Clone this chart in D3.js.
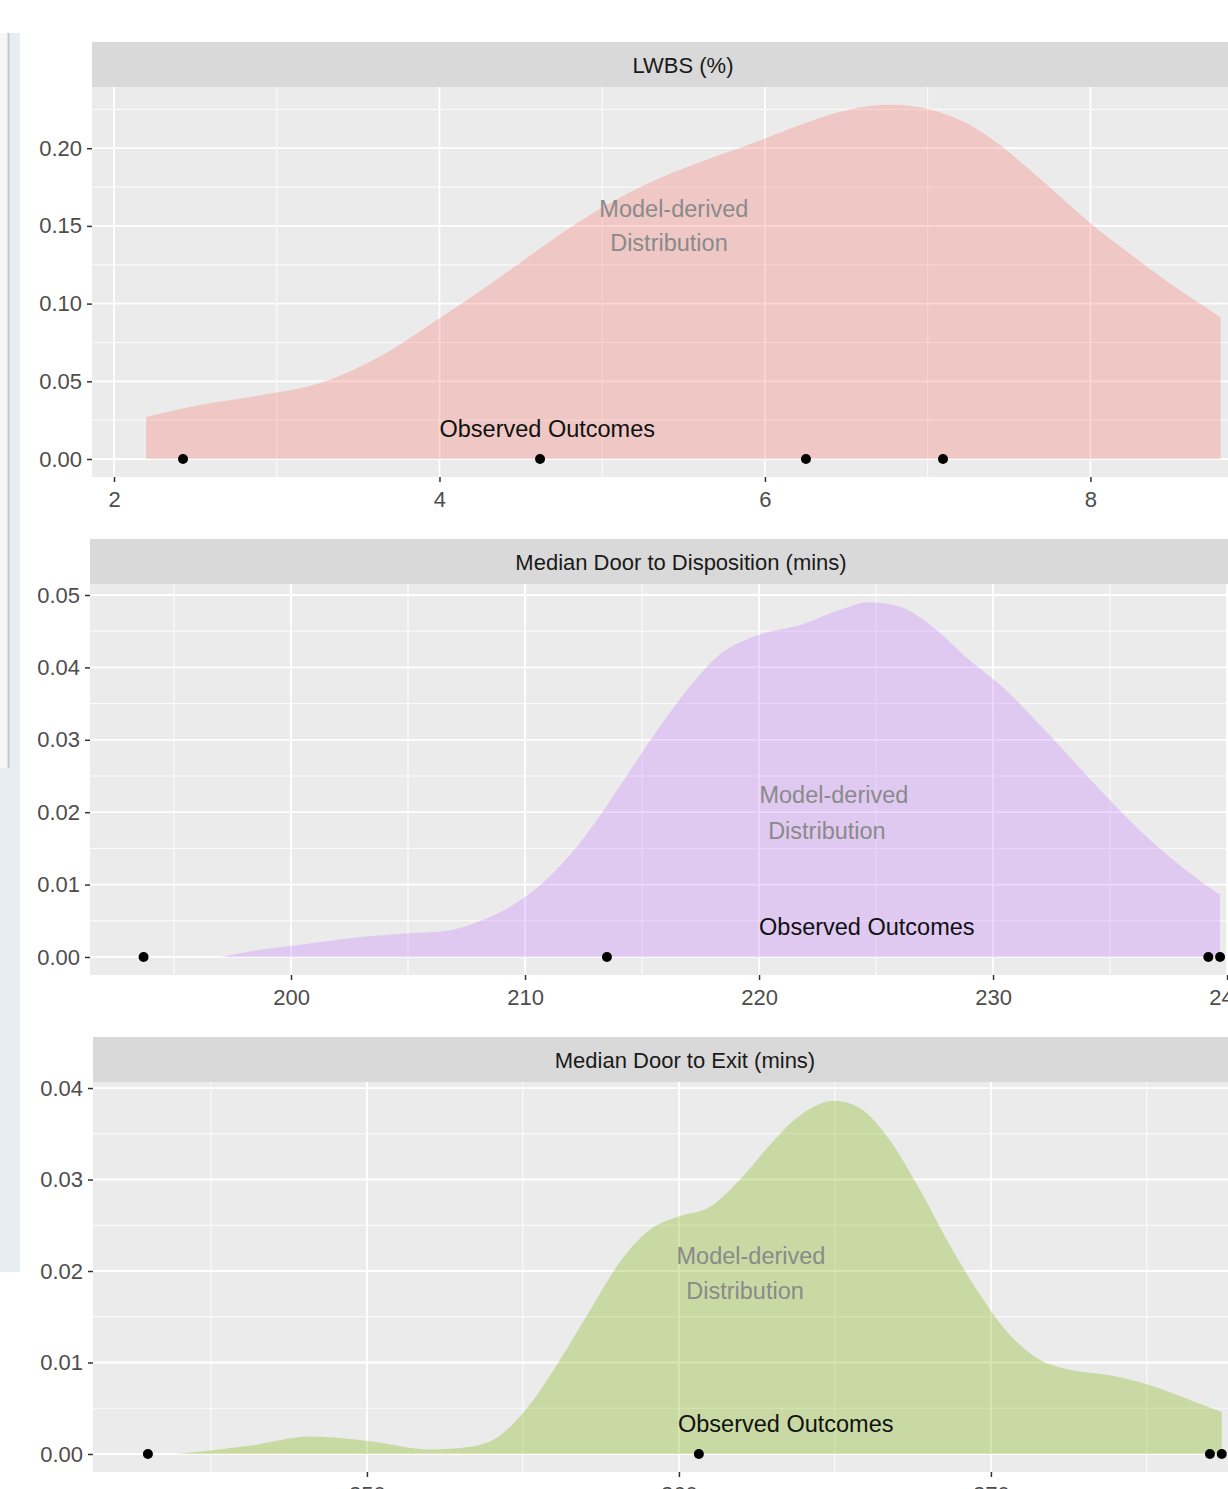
<!DOCTYPE html>
<html>
<head>
<meta charset="utf-8">
<script src="https://cdn.jsdelivr.net/npm/d3@7"></script>
<style>
  body { margin: 0; background: #fff; }
  svg { display: block; font-family: "Liberation Sans", Arial, sans-serif; }
</style>
</head>
<body>
<script>
// ---- data ----
const titles = ["LWBS (%)", "Median Door to Disposition (mins)", "Median Door to Exit (mins)"];
const fills = ["#F8766D", "#C77CFF", "#7CAE00"];

const lwbsX = [2.197, 2.528, 2.897, 3.266, 3.634, 4.003, 4.372, 4.679, 4.986, 5.293, 5.600, 5.969, 6.215, 6.522, 6.768, 7.014, 7.241, 7.444, 7.628, 7.813, 7.997, 8.243, 8.489, 8.673, 8.800];
const lwbsY = [0.027, 0.0347, 0.041, 0.0489, 0.066, 0.0907, 0.117, 0.140, 0.161, 0.178, 0.191, 0.205, 0.215, 0.225, 0.228, 0.225, 0.216, 0.202, 0.186, 0.169, 0.152, 0.132, 0.113, 0.100, 0.091];
const lwbsObs = [2.424, 4.618, 6.252, 7.094];
const lwbsXTicks = [2, 4, 6, 8];
const lwbsYTicks = [0, 0.05, 0.10, 0.15, 0.20];

const dispX = [197.0, 198.7, 200.4, 202.5, 204.7, 206.8, 208.1, 209.4, 210.6, 211.9, 213.2, 214.5, 215.8, 217.1, 218.3, 220.0, 221.8, 223.5, 224.7, 226.0, 227.3, 229.0, 230.3, 232.4, 234.6, 236.7, 238.4, 239.7];
const dispY = [0, 0.001, 0.0017, 0.0026, 0.0032, 0.0037, 0.005, 0.007, 0.0098, 0.014, 0.0195, 0.0258, 0.032, 0.0376, 0.0417, 0.0445, 0.0459, 0.048, 0.049, 0.0484, 0.0459, 0.041, 0.0376, 0.0307, 0.023, 0.0162, 0.0116, 0.0086];
const dispObs = [193.7, 213.5, 239.2, 239.7];
const dispXTicks = [200, 210, 220, 230, 240];
const dispYTicks = [0, 0.01, 0.02, 0.03, 0.04, 0.05];

const exitX = [243.85, 246.25, 248.17, 250.10, 252.02, 253.30, 254.26, 255.22, 256.19, 257.15, 258.11, 259.07, 260.03, 260.99, 261.96, 262.92, 263.88, 265.0, 265.80, 266.76, 267.72, 268.69, 269.65, 270.61, 271.57, 272.53, 273.81, 275.10, 276.38, 277.40];
const exitY = [0, 0.0009, 0.0019, 0.0014, 0.0005, 0.0008, 0.002, 0.0054, 0.0103, 0.0157, 0.021, 0.0245, 0.026, 0.027, 0.030, 0.0338, 0.037, 0.0386, 0.0378, 0.0343, 0.0289, 0.0228, 0.0174, 0.013, 0.0103, 0.0092, 0.0086, 0.0075, 0.0059, 0.0046];
const exitObs = [242.98, 260.64, 277.02, 277.40];
const exitXTicks = [250, 260, 270];
const exitYTicks = [0, 0.01, 0.02, 0.03, 0.04];

// annotation anchors in data units: [x, y]
const modelLbl = [[5.44, 0.160], [223.2, 0.0221], [262.31, 0.0214]];
const distLbl = [[5.41, 0.1376], [222.9, 0.0171], [262.12, 0.0176]];
const obsLbl = [[4.0, 0.018], [220.0, 0.0039], [259.97, 0.0031]];

// ---- layout ----
const W = 1228, H = 1489;
const panels = [
  { left: 92, right: 1274, stripTop: 42, top: 87, bottom: 477,
    xd: [1.8648, 9.128], yd: [-0.01158, 0.2394], xs: lwbsX, ys: lwbsY, obs: lwbsObs,
    xt: lwbsXTicks, yt: lwbsYTicks, fill: fills[0] },
  { left: 90, right: 1272, stripTop: 539, top: 584, bottom: 975,
    xd: [191.41, 241.92], yd: [-0.00249, 0.05152], xs: dispX, ys: dispY, obs: dispObs,
    xt: dispXTicks, yt: dispYTicks, fill: fills[1] },
  { left: 93, right: 1277, stripTop: 1037, top: 1082, bottom: 1472,
    xd: [241.22, 279.17], yd: [-0.00197, 0.04066], xs: exitX, ys: exitY, obs: exitObs,
    xt: exitXTicks, yt: exitYTicks, fill: fills[2] }
];

const svg = d3.select("body").append("svg")
  .attr("width", W).attr("height", H)
  .attr("viewBox", [0, 0, W, H]);

// side panel of the screenshot
svg.append("rect").attr("x", 0).attr("y", 33).attr("width", 20).attr("height", 1239).attr("fill", "#e8edf2");
svg.append("rect").attr("x", 0).attr("y", 33).attr("width", 8).attr("height", 735).attr("fill", "#f6f6f6");
svg.append("line").attr("x1", 8.5).attr("x2", 8.5).attr("y1", 33).attr("y2", 768)
  .attr("stroke", "#c3c8cd").attr("stroke-width", 2);

panels.forEach((p, i) => {
  const x = d3.scaleLinear().domain(p.xd).range([p.left, p.right]);
  const y = d3.scaleLinear().domain(p.yd).range([p.bottom, p.top]);
  const g = svg.append("g");

  const clipId = "clip" + i;
  g.append("clipPath").attr("id", clipId)
    .append("rect").attr("x", p.left).attr("y", p.top)
    .attr("width", p.right - p.left).attr("height", p.bottom - p.top);

  // strip
  g.append("rect").attr("x", p.left).attr("y", p.stripTop)
    .attr("width", p.right - p.left).attr("height", p.top - p.stripTop).attr("fill", "#d9d9d9");
  g.append("text").attr("x", (p.left + p.right) / 2).attr("y", (p.stripTop + p.top) / 2 + 3)
    .attr("text-anchor", "middle").attr("dominant-baseline", "middle")
    .attr("font-size", 22).attr("fill", "#1a1a1a").text(titles[i]);

  // panel background
  g.append("rect").attr("x", p.left).attr("y", p.top)
    .attr("width", p.right - p.left).attr("height", p.bottom - p.top).attr("fill", "#ebebeb");

  const body = g.append("g").attr("clip-path", `url(#${clipId})`);

  // gridlines: minor halfway between majors
  const xStep = p.xt[1] - p.xt[0], yStep = p.yt[1] - p.yt[0];
  const xMinor = d3.range(p.xt[0] - xStep * 2.5, p.xt[p.xt.length - 1] + xStep * 3, xStep);
  const xMajor = d3.range(p.xt[0] - xStep * 2, p.xt[p.xt.length - 1] + xStep * 3, xStep);
  const yMinor = d3.range(p.yt[0] + yStep / 2, p.yd[1], yStep);

  body.selectAll(".ymin").data(yMinor).join("line")
    .attr("x1", p.left).attr("x2", p.right).attr("y1", d => y(d)).attr("y2", d => y(d))
    .attr("stroke", "#fff").attr("stroke-width", 0.9);
  body.selectAll(".xmin").data(xMinor).join("line")
    .attr("y1", p.top).attr("y2", p.bottom).attr("x1", d => x(d)).attr("x2", d => x(d))
    .attr("stroke", "#fff").attr("stroke-width", 0.9);
  body.selectAll(".ymaj").data(p.yt).join("line")
    .attr("x1", p.left).attr("x2", p.right).attr("y1", d => y(d)).attr("y2", d => y(d))
    .attr("stroke", "#fff").attr("stroke-width", 1.8);
  body.selectAll(".xmaj").data(xMajor).join("line")
    .attr("y1", p.top).attr("y2", p.bottom).attr("x1", d => x(d)).attr("x2", d => x(d))
    .attr("stroke", "#fff").attr("stroke-width", 1.8);

  // density area
  const pts = p.xs.map((v, k) => [v, p.ys[k]]);
  const area = d3.area()
    .x(d => x(d[0])).y0(y(0)).y1(d => y(d[1]))
    .curve(d3.curveMonotoneX);
  body.append("path").datum(pts).attr("d", area)
    .attr("fill", p.fill).attr("fill-opacity", 0.3);

  // annotations
  body.append("text").attr("x", x(modelLbl[i][0])).attr("y", y(modelLbl[i][1]))
    .attr("text-anchor", "middle").attr("dominant-baseline", "middle")
    .attr("font-size", 23.5).attr("fill", "#8a8a8a").text("Model-derived");
  body.append("text").attr("x", x(distLbl[i][0])).attr("y", y(distLbl[i][1]))
    .attr("text-anchor", "middle").attr("dominant-baseline", "middle")
    .attr("font-size", 23.5).attr("fill", "#8a8a8a").text("Distribution");
  body.append("text").attr("x", x(obsLbl[i][0])).attr("y", y(obsLbl[i][1]))
    .attr("text-anchor", "start").attr("dominant-baseline", "middle")
    .attr("font-size", 23.5).attr("fill", "#111").text("Observed Outcomes");

  // observed points
  body.selectAll(".obs").data(p.obs).join("circle")
    .attr("cx", d => x(d)).attr("cy", y(0)).attr("r", 5).attr("fill", "#000");

  // axes
  const yAxis = d3.axisLeft(y).tickValues(p.yt).tickFormat(d3.format(".2f")).tickSize(5).tickPadding(5);
  const ya = g.append("g").attr("transform", `translate(${p.left},0)`).call(yAxis);
  const xAxis = d3.axisBottom(x).tickValues(p.xt).tickFormat(d3.format("d")).tickSize(5).tickPadding(9);
  const xa = g.append("g").attr("transform", `translate(0,${p.bottom})`).call(xAxis);
  [ya, xa].forEach(a => {
    a.select(".domain").remove();
    a.selectAll(".tick line").attr("stroke", "#333").attr("stroke-width", 1.5);
    a.selectAll(".tick text").attr("fill", "#4d4d4d").attr("font-size", 22)
      .attr("font-family", "'Liberation Sans', Arial, sans-serif");
  });
});
</script>
</body>
</html>
